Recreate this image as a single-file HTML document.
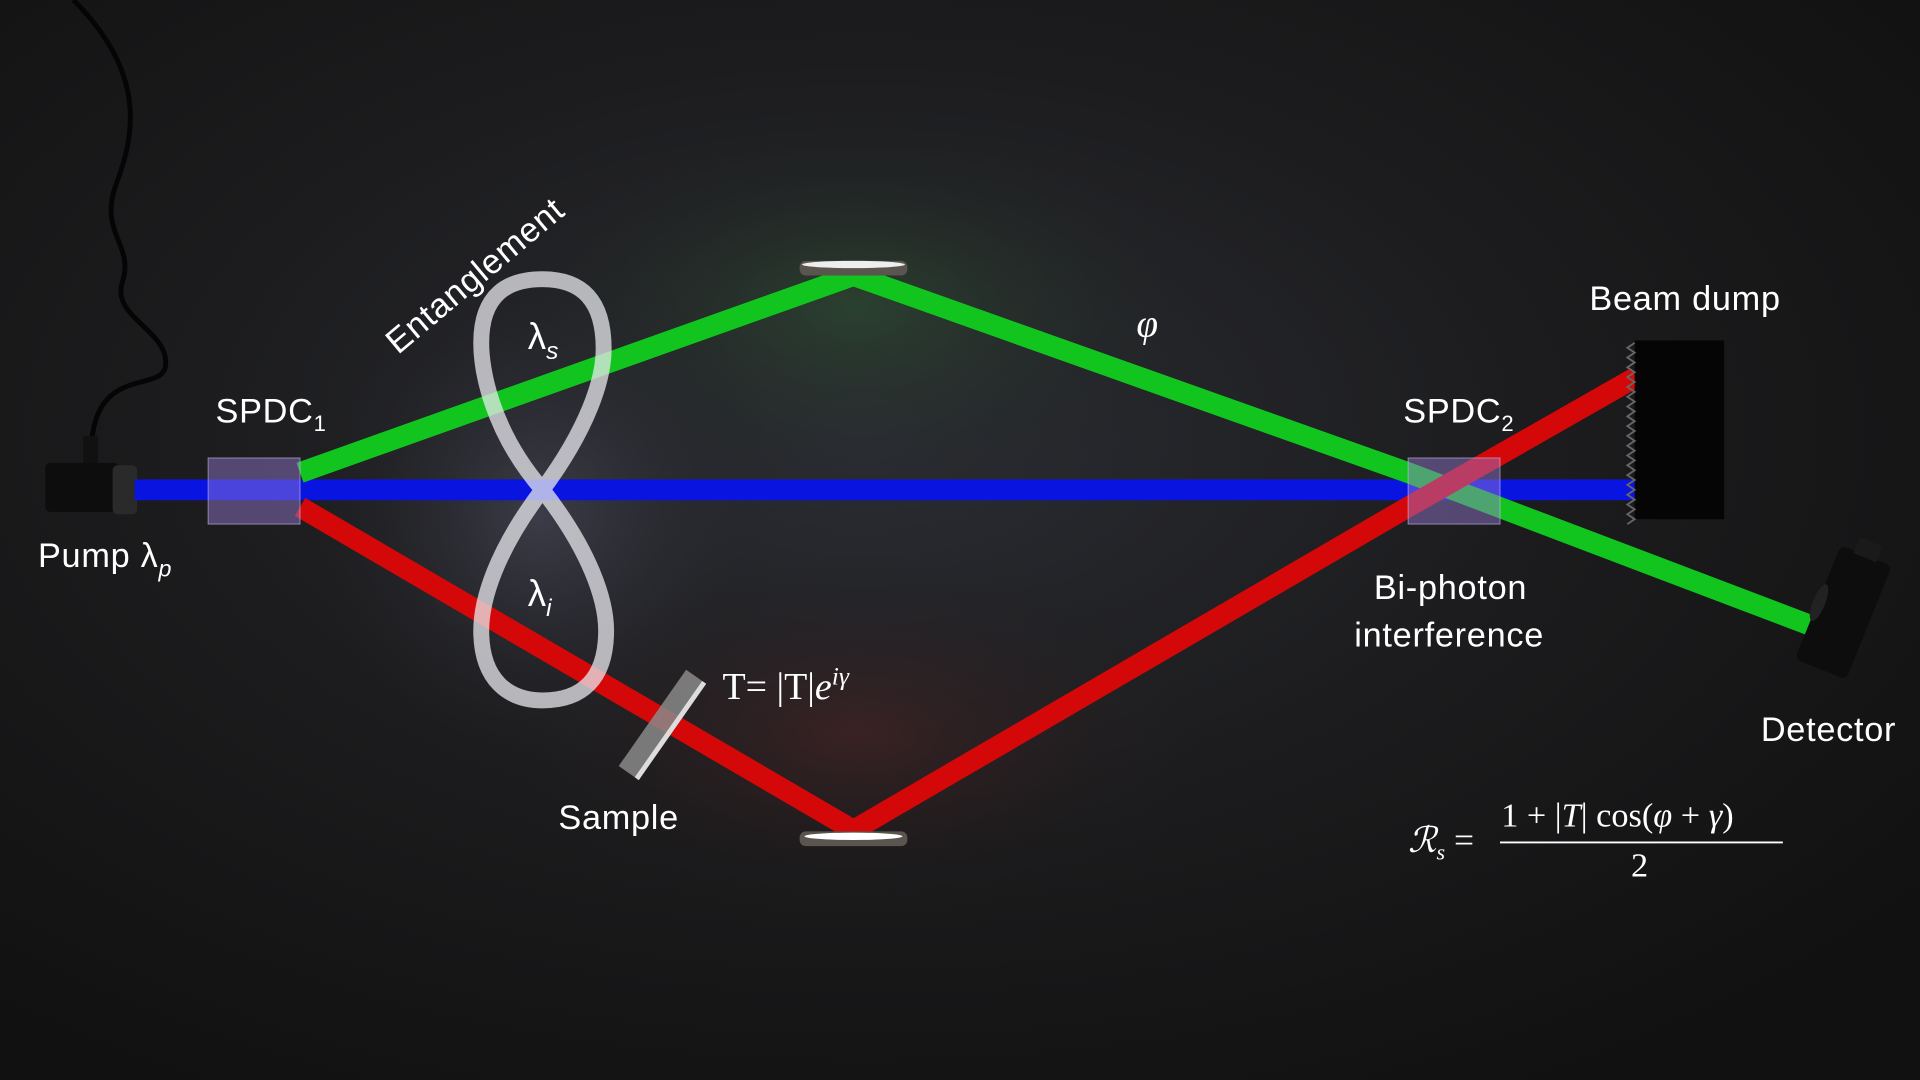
<!DOCTYPE html>
<html><head><meta charset="utf-8"><style>
html,body{margin:0;padding:0;background:#141414;overflow:hidden}
svg{display:block}
text{font-family:"Liberation Sans",sans-serif;fill:#fff}
.lbl{font-size:28px;letter-spacing:0.6px}
.serif{font-family:"Liberation Serif",serif;letter-spacing:0}
</style></head><body>
<svg width="1920" height="1080" viewBox="0 0 1568 882" xmlns="http://www.w3.org/2000/svg">
<defs>
<radialGradient id="bg" cx="0.45" cy="0.4" r="0.7">
<stop offset="0" stop-color="#2b2d33"/><stop offset="0.5" stop-color="#1c1c1e"/><stop offset="1" stop-color="#111"/>
</radialGradient>
<radialGradient id="gg" cx="0.5" cy="0.5" r="0.5"><stop offset="0" stop-color="#2f5a33" stop-opacity="0.5"/><stop offset="1" stop-color="#1c1c1c" stop-opacity="0"/></radialGradient>
<radialGradient id="rg" cx="0.5" cy="0.5" r="0.5"><stop offset="0" stop-color="#5a2424" stop-opacity="0.45"/><stop offset="1" stop-color="#1c1c1c" stop-opacity="0"/></radialGradient>
<radialGradient id="wg" cx="0.5" cy="0.5" r="0.5"><stop offset="0" stop-color="#55556a" stop-opacity="0.5"/><stop offset="1" stop-color="#1c1c1c" stop-opacity="0"/></radialGradient>
</defs>
<rect width="1568" height="882" fill="url(#bg)"/>
<ellipse cx="700" cy="250" rx="300" ry="160" fill="url(#gg)"/>
<ellipse cx="700" cy="600" rx="300" ry="150" fill="url(#rg)"/>
<ellipse cx="440" cy="420" rx="200" ry="220" fill="url(#wg)"/>
<path d="M60,0 C120,60 110,110 95,150 C80,190 110,200 100,230 C90,260 140,270 135,300 C130,320 80,300 75,360" stroke="#050505" stroke-width="4" fill="none"/>
<rect x="68" y="356" width="12" height="24" fill="#111"/>
<rect x="37" y="378" width="60" height="40" rx="4" fill="#0d0d0d"/>
<rect x="92" y="380" width="20" height="40" rx="4" fill="#2a2a2a"/>
<g stroke-linecap="butt" fill="none">
<line x1="110" y1="400" x2="1340" y2="400" stroke="#0a14e0" stroke-width="17"/>
<polyline points="245,386 697,225 1150,386 1482,512" stroke="#12c51e" stroke-width="17"/>
<polyline points="245,414 697,678 1150,414 1336,308" stroke="#d40808" stroke-width="17"/>
</g>
<rect x="170" y="374" width="75" height="54" fill="#9a7cd6" fill-opacity="0.45" stroke="#c9b8f0" stroke-opacity="0.5"/>
<rect x="1150" y="374" width="75" height="54" fill="#9a7cd6" fill-opacity="0.45" stroke="#c9b8f0" stroke-opacity="0.5"/>
<rect x="653" y="213" width="88" height="12" rx="5" fill="#5a554e"/>
<ellipse cx="697" cy="216" rx="42" ry="3" fill="#eee"/>
<rect x="653" y="679" width="88" height="12" rx="5" fill="#5a554e"/>
<ellipse cx="697" cy="683" rx="40" ry="3" fill="#fff"/>
<path d="M443,400 C400,350 393,300 393,280 C393,240 415,228 443,228 C475,228 493,245 493,285 C493,310 480,350 443,400 C405,450 393,490 393,515 C393,555 415,572 443,572 C475,572 495,555 495,515 C495,490 482,450 443,400 Z" fill="none" stroke="#e8e8ee" stroke-opacity="0.75" stroke-width="13"/>
<g transform="translate(541,592) rotate(35)"><rect x="-10" y="-48" width="20" height="96" fill="#8a8a8a" fill-opacity="0.85"/><rect x="6" y="-48" width="4" height="96" fill="#ddd"/></g>
<rect x="1335" y="278" width="73" height="146" fill="#050505"/>
<path d="M1335,280 l-6,4 l6,4 l-6,4 l6,4 l-6,4 l6,4 l-6,4 l6,4 l-6,4 l6,4 l-6,4 l6,4 l-6,4 l6,4 l-6,4 l6,4 l-6,4 l6,4 l-6,4 l6,4 l-6,4 l6,4 l-6,4 l6,4 l-6,4 l6,4 l-6,4 l6,4 l-6,4 l6,4 l-6,4 l6,4 l-6,4 l6,4 l-6,4 l6,4 l-6,4" fill="none" stroke="#666" stroke-width="1.5"/>
<g transform="translate(1505,500) rotate(22)"><rect x="-22" y="-50" width="45" height="100" rx="5" fill="#0d0d0d"/><rect x="-10" y="-62" width="20" height="14" fill="#1a1a1a"/><ellipse cx="-21" cy="0" rx="5" ry="16" fill="#222"/></g>
<text class="lbl" x="176" y="345">SPDC<tspan font-size="18" dy="7">1</tspan></text>
<text class="lbl" x="1146" y="345">SPDC<tspan font-size="18" dy="7">2</tspan></text>
<text class="lbl" x="31" y="463">Pump λ<tspan font-size="19" dy="8" font-style="italic">p</tspan></text>
<text class="lbl" x="1298" y="253">Beam dump</text>
<text class="lbl" x="1438" y="605">Detector</text>
<text class="lbl" x="1122" y="489">Bi-photon</text>
<text class="lbl" x="1106" y="528">interference</text>
<text class="lbl" x="456" y="677">Sample</text>
<text class="lbl" x="0" y="0" transform="translate(325,290) rotate(-40)">Entanglement</text>
<text x="431" y="285" font-size="30">λ<tspan font-size="20" dy="8" font-style="italic">s</tspan></text>
<text x="431" y="495" font-size="30">λ<tspan font-size="20" dy="8" font-style="italic">i</tspan></text>
<text x="928" y="275" font-size="32" class="serif" font-style="italic">φ</text>
<text x="590" y="571" font-size="31" class="serif">T= |T|<tspan font-style="italic">e</tspan><tspan font-size="21" dy="-12" font-style="italic">iγ</tspan></text>
<text x="1150" y="696" font-size="29" class="serif" font-style="italic">ℛ<tspan font-size="18" dy="6">s</tspan><tspan dy="-6" font-style="normal"> =</tspan></text>
<text x="1226" y="675" font-size="28" class="serif">1 + |<tspan font-style="italic">T</tspan>| cos(<tspan font-style="italic">φ</tspan> + <tspan font-style="italic">γ</tspan>)</text>
<line x1="1225" y1="688" x2="1456" y2="688" stroke="#fff" stroke-width="1.5"/>
<text x="1332" y="716" font-size="28" class="serif">2</text>
</svg>
</body></html>
